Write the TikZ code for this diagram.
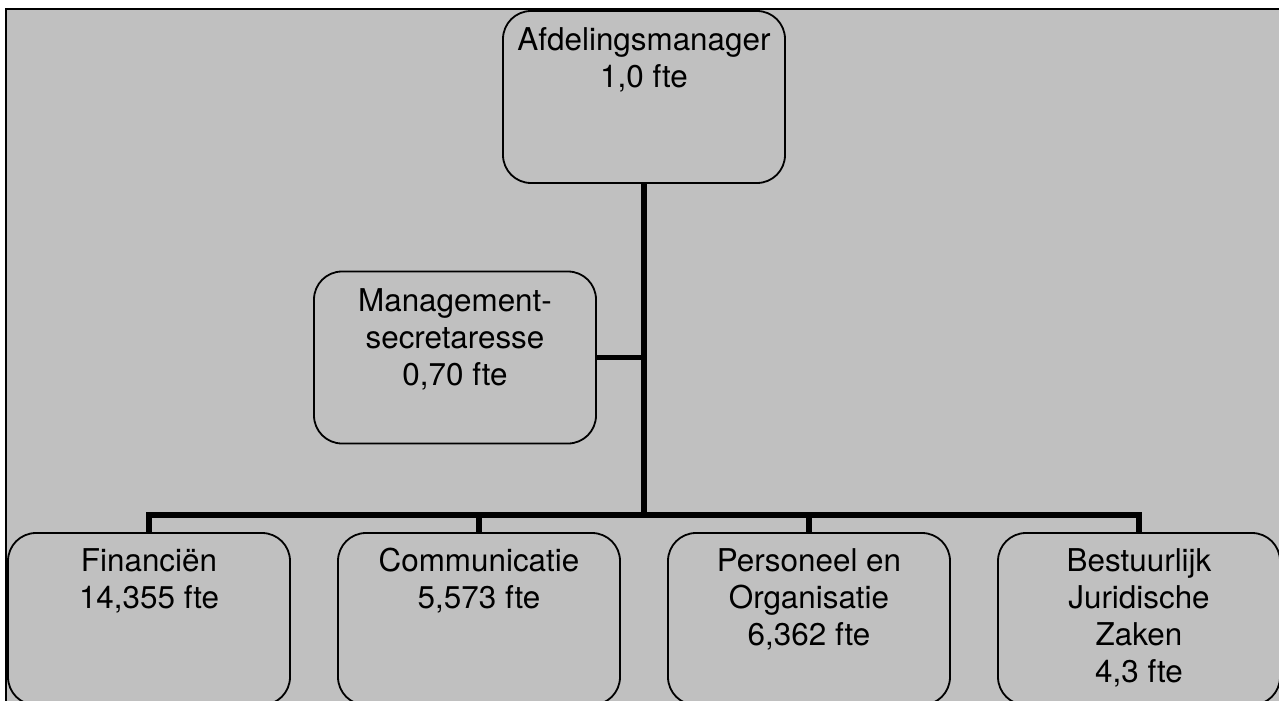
\documentclass[tikz,border=0pt]{standalone}
\usepackage{fontspec}
\setmainfont{TeX Gyre Heros}
\definecolor{bggray}{HTML}{C0C0C0}
\begin{document}
\begin{tikzpicture}[x=1pt,y=-1pt,
  orgbox/.style={draw=black, line width=1.8pt, fill=bggray, rounded corners=28pt,
    minimum width=282pt, minimum height=172pt, inner sep=0pt},
  orgtext/.style={anchor=north, inner sep=0pt, align=center,
    font=\fontsize{31.4}{37}\selectfont},
  conn/.style={draw=black, line width=5.5pt, line join=miter}]
\useasboundingbox (0,0) rectangle (1279,701);
\clip (0,0) rectangle (1279,701);
\draw[fill=bggray, line width=2pt] (6,9) rectangle (1300,730);
\coordinate (j) at (644,515);
% boxes
\node[orgbox] (mgr) at (644,97) {};
\node[orgbox] (sec) at (455,357.5) {};
\node[orgbox] (fin) at (149,619) {};
\node[orgbox] (com) at (479,619) {};
\node[orgbox] (peo) at (809,619) {};
\node[orgbox] (bjz) at (1139,619) {};
% connectors
\draw[conn] (mgr.south) -- (j);
\draw[conn] (sec.east) -- (sec.east -| j);
\draw[conn] (fin.north) -- (fin.north |- j) -- (bjz.north |- j) -- (bjz.north);
\draw[conn] (com.north) -- (com.north |- j);
\draw[conn] (peo.north) -- (peo.north |- j);
% texts
\node[orgtext] (tmgr) at ([yshift=-17pt]mgr.north) {Afdelingsmanager\\1,0 fte};
\node[orgtext] (tsec) at ([yshift=-18pt]sec.north) {Management-\\secretaresse\\0,70 fte};
\node[orgtext] (tfin) at ([yshift=-16pt]fin.north) {Financiën\\14,355 fte};
\node[orgtext] (tcom) at ([yshift=-16pt]com.north) {Communicatie\\5,573 fte};
\node[orgtext] (tpeo) at ([yshift=-16pt]peo.north) {Personeel en\\Organisatie\\6,362 fte};
\node[orgtext] (tbjz) at ([yshift=-16pt]bjz.north) {Bestuurlijk\\Juridische\\Zaken\\4,3 fte};
\end{tikzpicture}
\end{document}
